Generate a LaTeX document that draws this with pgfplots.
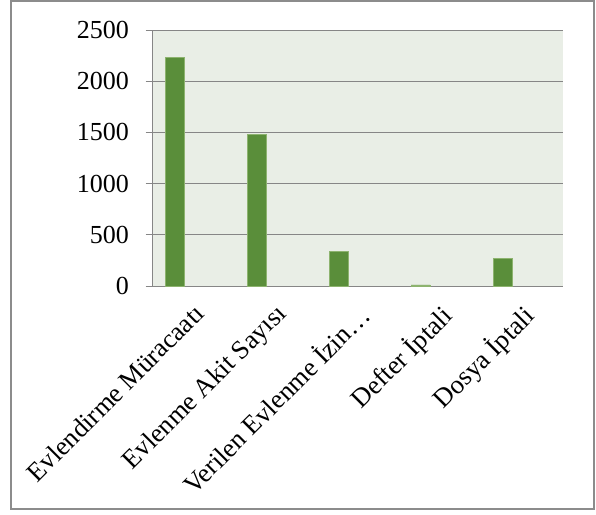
\documentclass[border=0pt]{standalone}
\usepackage{pgfplots}
\pgfplotsset{compat=1.18}
\usepackage{fontspec}
\setmainfont{Liberation Serif}
\definecolor{barg}{HTML}{5A8E3A}
\definecolor{baredge}{HTML}{8DB36F}
\definecolor{bgc}{HTML}{E9EEE6}
\definecolor{gridc}{HTML}{868686}
\definecolor{framec}{HTML}{8C8C8C}
\begin{document}
\begin{tikzpicture}[x=1pt,y=1pt]
\useasboundingbox (0,0) rectangle (596,514);
\draw[framec, line width=1.2pt] (11,5) rectangle (594,513);
\begin{axis}[
  at={(186,222.3)}, anchor=origin,
  scale only axis, width=410pt, height=256.2pt,
  xmin=0, xmax=5, ymin=0, ymax=2500,
  axis x line=bottom, axis y line=left,
  axis line style={-, gridc, line width=0.9pt},
  axis background/.style={fill=bgc},
  ytick={0,500,...,2500},
  ymajorgrids, grid style={gridc, line width=0.9pt},
  major tick length=7pt,
  ytick style={gridc, line width=0.9pt},
  y tick label style={font=\fontsize{26}{30}\selectfont, xshift=-13pt},
  /pgf/number format/assume math mode=true,
  /pgf/number format/1000 sep={},
  scaled y ticks=false,
  xtick={0.5,1.5,2.5,3.5,4.5},
  xticklabels={Evlendirme Müracaatı, Evlenme Akit Sayısı, Verilen Evlenme İzin…, Defter İptali, Dosya İptali},
  x tick label style={font=\fontsize{26.5}{30}\selectfont, xshift=-1pt, yshift=-6pt, rotate=45, anchor=north east, inner sep=2pt},
  xtick style={draw=none},
  minor xtick={0,1,2,3,4,5},
  minor tick length=7pt,
  minor x tick style={gridc, line width=0.9pt},
  tick align=outside,
  clip=false,
]
\addplot[ybar, bar width=19pt, fill=barg, draw=baredge, line width=0.5pt, bar shift=0pt]
  coordinates {(0.27,2232) (1.27,1480) (2.27,339) (3.27,14) (4.27,270)};
\end{axis}
\end{tikzpicture}
\end{document}
